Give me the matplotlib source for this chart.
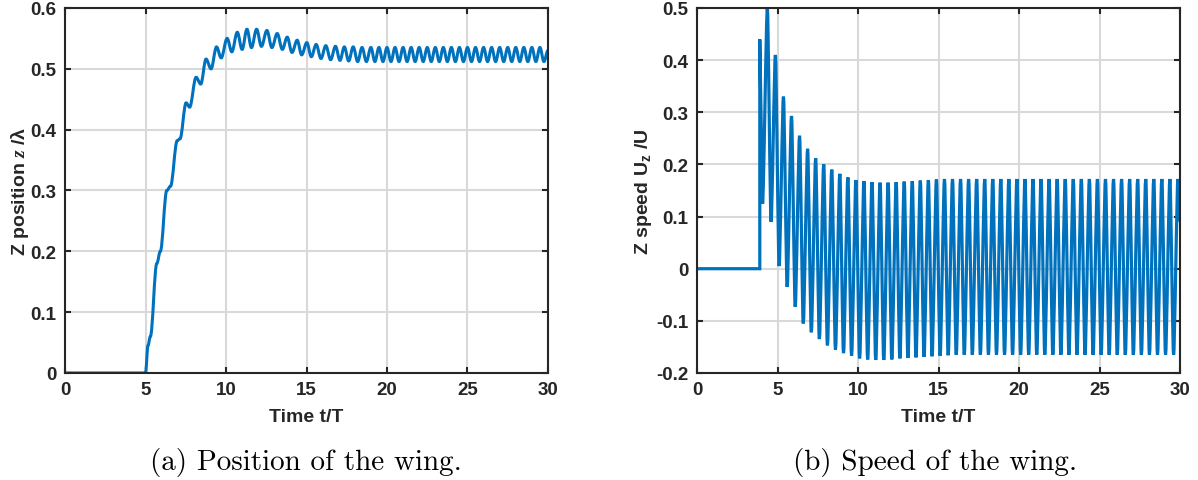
import numpy as np
import matplotlib.pyplot as plt
from matplotlib.ticker import FuncFormatter
from matplotlib.path import Path
from matplotlib.patches import PathPatch

# ---- position of the wing (extrema) ----
pos_t = [0, 5.0, 5.15, 5.3, 5.7, 5.92, 6.32, 6.55, 6.97, 7.14, 7.52, 7.74,
         8.14, 8.43, 8.76, 9.07, 9.41, 9.7, 10.07, 10.36, 10.7, 11.0,
         11.3, 11.58, 11.9, 12.2, 12.54, 12.85, 13.18, 13.5, 13.8, 14.1,
         14.42, 14.7, 15.02, 15.3, 15.6, 15.9, 16.2, 16.5, 16.8, 17.08,
         17.35, 17.62, 17.9, 18.18, 18.45, 18.72, 19.0, 19.25]
pos_z = [0, 0, 0.045, 0.06, 0.18, 0.2, 0.30, 0.307, 0.382, 0.385, 0.444, 0.437,
         0.486, 0.475, 0.516, 0.50, 0.536, 0.518, 0.55, 0.528, 0.56, 0.532,
         0.565, 0.535, 0.565, 0.537, 0.563, 0.535, 0.558, 0.532, 0.552, 0.527,
         0.547, 0.523, 0.543, 0.52, 0.54, 0.517, 0.538, 0.515, 0.537, 0.514,
         0.536, 0.513, 0.536, 0.512, 0.535, 0.512, 0.535, 0.512]
# steady part, period 0.5 from t = 19.5
pos_steady_peaks = [0.535, 0.535, 0.535, 0.535, 0.535, 0.535, 0.535, 0.535,
                    0.535, 0.535, 0.535, 0.535, 0.535, 0.535, 0.535, 0.535,
                    0.535, 0.535, 0.535, 0.535, 0.535]
pos_steady_troughs = [0.512, 0.512, 0.512, 0.512, 0.512, 0.512, 0.512, 0.512,
                      0.512, 0.512, 0.512, 0.512, 0.512, 0.512, 0.512, 0.512,
                      0.512, 0.512, 0.512, 0.512, 0.512]
pos_end = (30.0, 0.53)

# ---- speed of the wing ----
spd_start = [(0, 0), (3.9, 0), (3.9, 0.44), (4.07, 0.125)]
spd_peaks = [0.5, 0.41, 0.33, 0.293, 0.255, 0.23, 0.212, 0.2, 0.19, 0.182,
             0.175, 0.17, 0.168, 0.166, 0.165, 0.165, 0.166, 0.167, 0.168,
             0.169, 0.17, 0.171, 0.172, 0.172, 0.172, 0.172, 0.172, 0.172,
             0.172, 0.172, 0.172, 0.172, 0.172, 0.172, 0.172, 0.172, 0.172,
             0.172, 0.172, 0.172, 0.172, 0.172, 0.172, 0.172, 0.172, 0.172,
             0.172, 0.172, 0.172, 0.172, 0.172, 0.172]
spd_troughs = [0.09, 0.005, -0.035, -0.073, -0.105, -0.122, -0.135, -0.147,
               -0.155, -0.162, -0.167, -0.172, -0.174, -0.175, -0.175, -0.174,
               -0.172, -0.171, -0.17, -0.169, -0.168, -0.167, -0.166, -0.165,
               -0.165, -0.165, -0.165, -0.165, -0.165, -0.165, -0.165, -0.165,
               -0.165, -0.165, -0.165, -0.165, -0.165, -0.165, -0.165, -0.165,
               -0.165, -0.165, -0.165, -0.165, -0.165, -0.165, -0.165, -0.165,
               -0.165, -0.165, -0.165]
spd_end = (30.0, 0.09)


def smooth_path(tt, vv, n_straight=0, k=0.36):
    # straight segments for the first n_straight points, then cubic
    # segments with flat tangents at every extremum
    verts = [(tt[0], vv[0])]
    codes = [Path.MOVETO]
    for i in range(1, len(tt)):
        if i < n_straight:
            verts.append((tt[i], vv[i]))
            codes.append(Path.LINETO)
            continue
        dt = tt[i] - tt[i - 1]
        verts += [(tt[i - 1] + k * dt, vv[i - 1]), (tt[i] - k * dt, vv[i]), (tt[i], vv[i])]
        codes += [Path.CURVE4] * 3
    return Path(verts, codes)


# position extrema
pt = list(pos_t)
pz = list(pos_z)
for j in range(len(pos_steady_peaks)):
    pt += [19.5 + 0.5 * j, 19.75 + 0.5 * j]
    pz += [pos_steady_peaks[j], pos_steady_troughs[j]]
pt = [t for t in pt if t < 30] + [pos_end[0]]
pz = pz[:len(pt) - 1] + [pos_end[1]]

# speed extrema
st = [p[0] for p in spd_start]
sv = [p[1] for p in spd_start]
for j in range(len(spd_peaks)):
    st.append(4.37 + 0.5 * j)
    sv.append(spd_peaks[j])
    if j < len(spd_troughs):
        st.append(4.6 + 0.5 * j)
        sv.append(spd_troughs[j])
st.append(spd_end[0])
sv.append(spd_end[1])

plt.rcParams['font.family'] = 'Liberation Sans'
plt.rcParams['font.weight'] = 'bold'
plt.rcParams['axes.unicode_minus'] = False
plt.rcParams['mathtext.fontset'] = 'custom'
plt.rcParams['mathtext.bf'] = 'Liberation Sans:bold'
plt.rcParams['mathtext.it'] = 'Liberation Serif:italic:bold'

fig = plt.figure(figsize=(11.98, 4.81), dpi=100)
ax1 = fig.add_axes([0.0543, 0.2225, 0.4031, 0.7588])
ax2 = fig.add_axes([0.5818, 0.2225, 0.4032, 0.7588])

blue = '#0072BD'
ax1.add_patch(PathPatch(smooth_path(pt, pz), fill=False, edgecolor=blue, lw=2.2))
ax2.add_patch(PathPatch(smooth_path(st, sv, n_straight=4, k=0.25), fill=False,
                        edgecolor=blue, lw=2.3))

fmt = FuncFormatter(lambda v, p: f'{v:g}')
for ax in (ax1, ax2):
    ax.set_xlim(0, 30)
    ax.set_xticks(np.arange(0, 31, 5))
    ax.grid(True, color='#d9d9d9', lw=1.5)
    ax.set_axisbelow(True)
    for s in ax.spines.values():
        s.set_linewidth(1.5)
        s.set_color('#262626')
    ax.tick_params(direction='in', top=True, right=True, length=4, width=1.5,
                   color='#262626', labelsize=13.5, labelcolor='#262626', pad=6)
    ax.xaxis.set_major_formatter(fmt)
    ax.yaxis.set_major_formatter(fmt)
    ax.set_xlabel('Time t/T', fontsize=14, fontweight='bold', color='#262626', labelpad=7)

ax1.set_ylim(0, 0.6)
ax1.set_yticks(np.arange(0, 0.61, 0.1))
ax1.set_ylabel('Z position $z$ /\u03bb', fontsize=14, fontweight='bold', color='#262626', labelpad=0)

ax2.set_ylim(-0.2, 0.5)
ax2.set_yticks(np.arange(-0.2, 0.51, 0.1))
ax2.set_ylabel('Z speed $\\mathbf{U_z}$ /U', fontsize=14, fontweight='bold', color='#262626', labelpad=2)

fig.text(0.2555, 0.038, '(a) Position of the wing.', ha='center', va='center',
         fontsize=21, fontfamily='cmr10', fontweight='normal')
fig.text(0.7805, 0.038, '(b) Speed of the wing.', ha='center', va='center',
         fontsize=21, fontfamily='cmr10', fontweight='normal')

fig.savefig('out.png', dpi=100)
